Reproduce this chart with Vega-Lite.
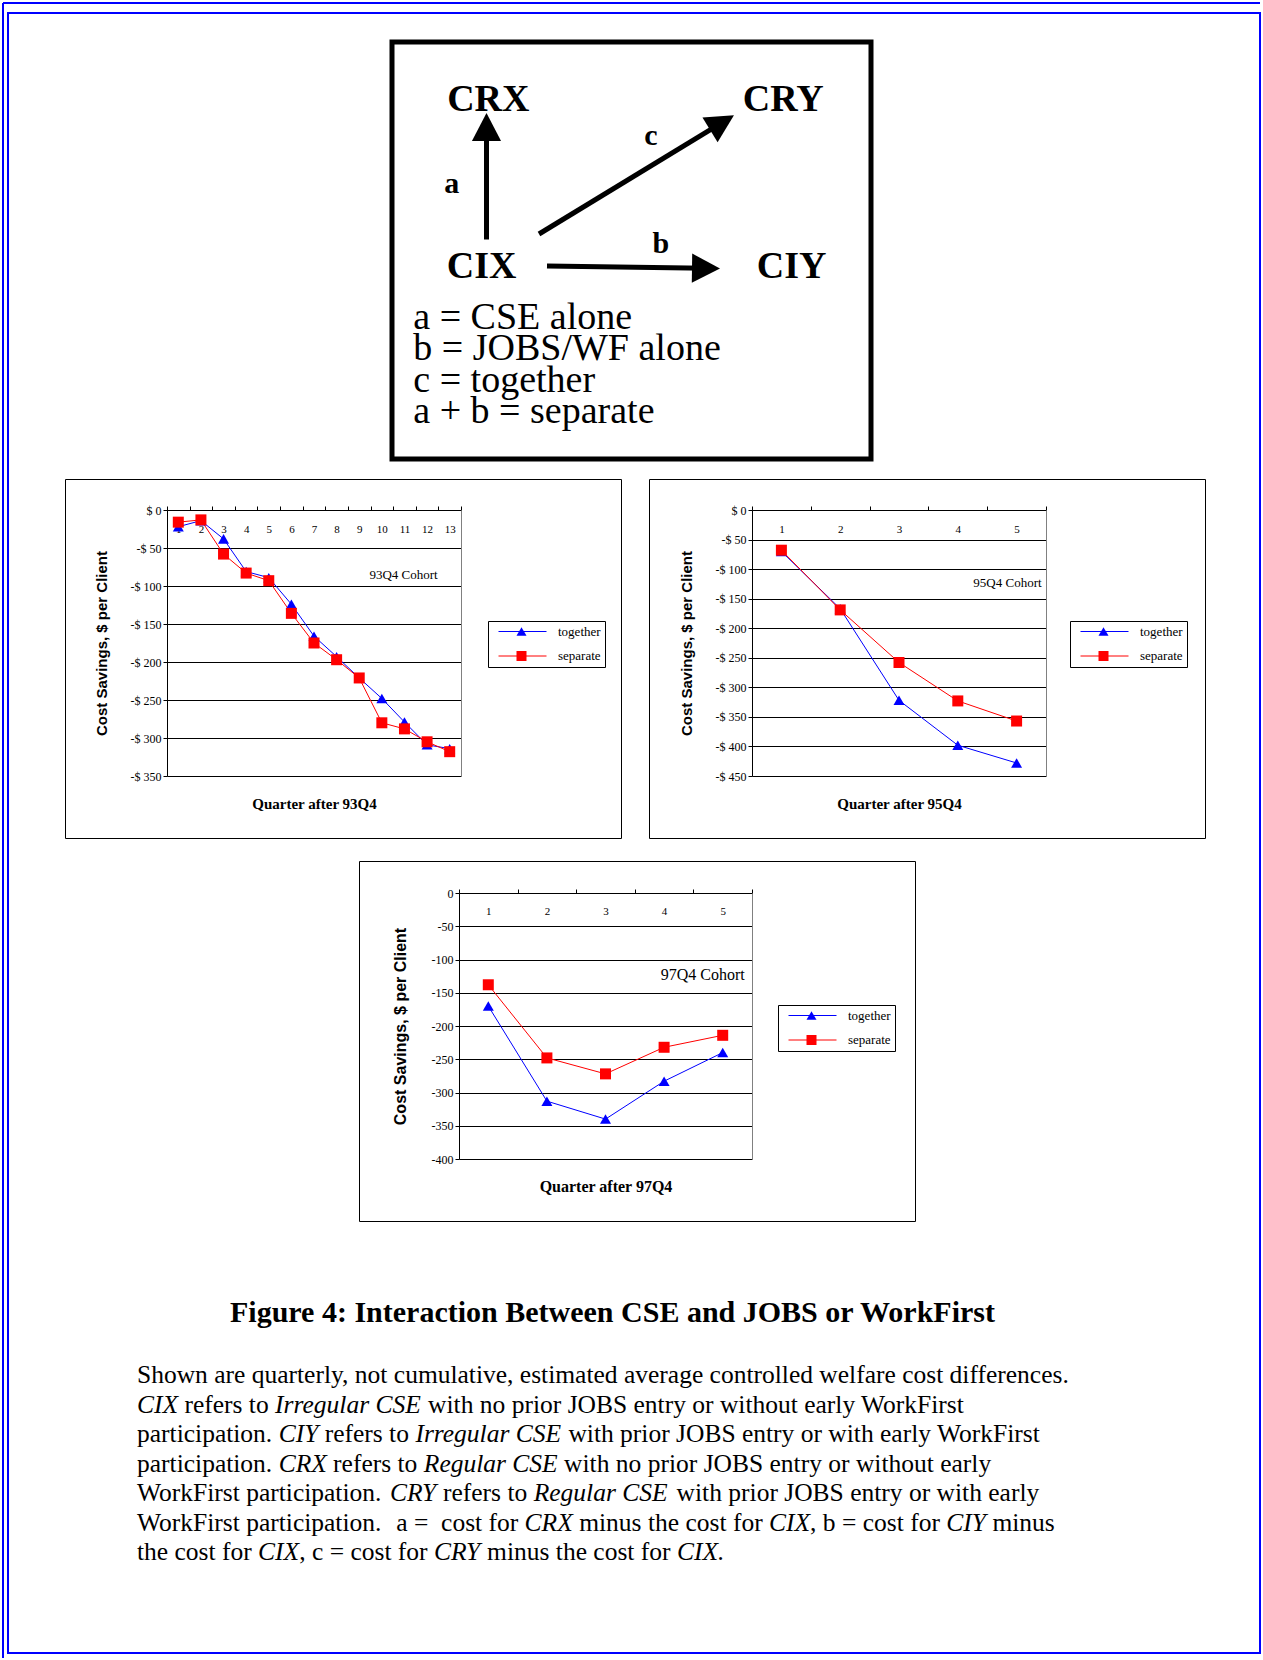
{
  "$schema": "https://vega.github.io/schema/vega-lite/v6.json",
  "padding": {"left": 2, "top": 2, "right": 0, "bottom": 0},
  "background": "white",
  "config": {"view": {"stroke": null}, "font": "Liberation Serif"},
  "datasets": {
    "outer": [{"x": 0, "y": 0, "x2": 1257, "y2": 0}, {"x": 0, "y": 0, "x2": 0, "y2": 1655}],
    "inner": [{"x": 5, "y": 10, "x2": 1257, "y2": 1650}],
    "box": [{"x": 389, "y": 39, "x2": 868, "y2": 456}],
    "chartboxes": [
      {"x": 62.5, "y": 476.5, "x2": 618.5, "y2": 835.5},
      {"x": 646.5, "y": 476.5, "x2": 1202.5, "y2": 835.5},
      {"x": 356.5, "y": 858.5, "x2": 912.5, "y2": 1218.5}
    ],
    "shafts": [
      {"x": 483.5, "y": 236.5, "x2": 483.5, "y2": 124},
      {"x": 536, "y": 231, "x2": 719, "y2": 119.6},
      {"x": 544, "y": 263, "x2": 703, "y2": 265.3}
    ],
    "heads": [
      {"x": 483.5, "y": 124, "angle": 0},
      {"x": 719, "y": 119.6, "angle": 58.7},
      {"x": 703, "y": 265.3, "angle": 90.8}
    ],
    "nodes": [
      {"x": 485.3, "y": 108.3, "label": "CRX"},
      {"x": 780.3, "y": 108.3, "label": "CRY"},
      {"x": 478.7, "y": 275, "label": "CIX"},
      {"x": 788.7, "y": 275, "label": "CIY"}
    ],
    "edges": [
      {"x": 448.7, "y": 190, "label": "a"},
      {"x": 647.8, "y": 142.3, "label": "c"},
      {"x": 657.8, "y": 250, "label": "b"}
    ],
    "key": [
      {"x": 410.3, "y": 325.5, "label": "a = CSE alone"},
      {"x": 410.3, "y": 357, "label": "b = JOBS/WF alone"},
      {"x": 410.3, "y": 389, "label": "c = together"},
      {"x": 410.3, "y": 420, "label": "a + b = separate"}
    ],
    "figtitle": [{"x": 609.5, "y": 1318.7, "label": "Figure 4: Interaction Between CSE and JOBS or WorkFirst"}],
    "cap_r": [
      {"x": 134, "y": 1380, "label": "Shown are quarterly, not cumulative, estimated average controlled welfare cost differences."},
      {"x": 181.4, "y": 1409.5, "label": "refers to"},
      {"x": 425.1, "y": 1409.5, "label": "with no prior JOBS entry or without early WorkFirst"},
      {"x": 134, "y": 1439, "label": "participation."},
      {"x": 321.7, "y": 1439, "label": "refers to"},
      {"x": 565.4, "y": 1439, "label": "with prior JOBS entry or with early WorkFirst"},
      {"x": 134, "y": 1468.5, "label": "participation."},
      {"x": 330.1, "y": 1468.5, "label": "refers to"},
      {"x": 561.1, "y": 1468.5, "label": "with no prior JOBS entry or without early"},
      {"x": 134, "y": 1498, "label": "WorkFirst participation."},
      {"x": 440, "y": 1498, "label": "refers to"},
      {"x": 673.6, "y": 1498, "label": "with prior JOBS entry or with early"},
      {"x": 134, "y": 1527.5, "label": "WorkFirst participation."},
      {"x": 393.2, "y": 1527.5, "label": "a ="},
      {"x": 438.1, "y": 1527.5, "label": "cost for"},
      {"x": 576.2, "y": 1527.5, "label": "minus the cost for"},
      {"x": 807.1, "y": 1527.5, "label": ", b = cost for"},
      {"x": 989.4, "y": 1527.5, "label": "minus"},
      {"x": 134, "y": 1557, "label": "the cost for"},
      {"x": 296.2, "y": 1557, "label": ", c = cost for"},
      {"x": 484.1, "y": 1557, "label": "minus the cost for"}
    ],
    "cap_i": [
      {"x": 134, "y": 1409.5, "label": "CIX"},
      {"x": 272.1, "y": 1409.5, "label": "Irregular CSE"},
      {"x": 275.7, "y": 1439, "label": "CIY"},
      {"x": 412.4, "y": 1439, "label": "Irregular CSE"},
      {"x": 275.7, "y": 1468.5, "label": "CRX"},
      {"x": 420.8, "y": 1468.5, "label": "Regular CSE"},
      {"x": 386.9, "y": 1498, "label": "CRY"},
      {"x": 530.7, "y": 1498, "label": "Regular CSE"},
      {"x": 521.6, "y": 1527.5, "label": "CRX"},
      {"x": 766, "y": 1527.5, "label": "CIX"},
      {"x": 943.3, "y": 1527.5, "label": "CIY"},
      {"x": 255.1, "y": 1557, "label": "CIX"},
      {"x": 430.9, "y": 1557, "label": "CRY"},
      {"x": 673.9, "y": 1557, "label": "CIX."}
    ],
    "c1": [
      {"q": 1, "series": "together", "v": -22}, {"q": 2, "series": "together", "v": -14}, {"q": 3, "series": "together", "v": -38},
      {"q": 4, "series": "together", "v": -81}, {"q": 5, "series": "together", "v": -89}, {"q": 6, "series": "together", "v": -124},
      {"q": 7, "series": "together", "v": -166}, {"q": 8, "series": "together", "v": -193}, {"q": 9, "series": "together", "v": -221},
      {"q": 10, "series": "together", "v": -248}, {"q": 11, "series": "together", "v": -279}, {"q": 12, "series": "together", "v": -309},
      {"q": 13, "series": "together", "v": -314},
      {"q": 1, "series": "separate", "v": -16}, {"q": 2, "series": "separate", "v": -13}, {"q": 3, "series": "separate", "v": -58},
      {"q": 4, "series": "separate", "v": -83}, {"q": 5, "series": "separate", "v": -93}, {"q": 6, "series": "separate", "v": -136},
      {"q": 7, "series": "separate", "v": -175}, {"q": 8, "series": "separate", "v": -197}, {"q": 9, "series": "separate", "v": -221},
      {"q": 10, "series": "separate", "v": -280}, {"q": 11, "series": "separate", "v": -288}, {"q": 12, "series": "separate", "v": -305},
      {"q": 13, "series": "separate", "v": -318}
    ],
    "c2": [
      {"q": 1, "series": "together", "v": -70}, {"q": 2, "series": "together", "v": -167}, {"q": 3, "series": "together", "v": -322},
      {"q": 4, "series": "together", "v": -398}, {"q": 5, "series": "together", "v": -428},
      {"q": 1, "series": "separate", "v": -68}, {"q": 2, "series": "separate", "v": -169}, {"q": 3, "series": "separate", "v": -258},
      {"q": 4, "series": "separate", "v": -323}, {"q": 5, "series": "separate", "v": -357}
    ],
    "c3": [
      {"q": 1, "series": "together", "v": -170}, {"q": 2, "series": "together", "v": -313}, {"q": 3, "series": "together", "v": -340},
      {"q": 4, "series": "together", "v": -283}, {"q": 5, "series": "together", "v": -240},
      {"q": 1, "series": "separate", "v": -138}, {"q": 2, "series": "separate", "v": -248}, {"q": 3, "series": "separate", "v": -272},
      {"q": 4, "series": "separate", "v": -232}, {"q": 5, "series": "separate", "v": -214}
    ]
  },
  "width": 1257,
  "height": 1655,
  "layer": [
    {
      "encoding": {
        "x": {"field": "x", "type": "quantitative", "scale": {"domain": [0, 1257], "nice": false, "zero": false}, "axis": null},
        "y": {"field": "y", "type": "quantitative", "scale": {"domain": [0, 1655], "nice": false, "zero": false, "reverse": true}, "axis": null}
      },
      "layer": [
        {"data": {"name": "outer"}, "mark": {"type": "rule", "color": "#0000ff", "strokeWidth": 2}, "encoding": {"x2": {"field": "x2"}, "y2": {"field": "y2"}}},
        {"data": {"name": "inner"}, "mark": {"type": "rect", "filled": false, "color": "#0000ff", "strokeWidth": 2}, "encoding": {"x2": {"field": "x2"}, "y2": {"field": "y2"}}},
        {"data": {"name": "box"}, "mark": {"type": "rect", "filled": false, "color": "black", "strokeWidth": 5}, "encoding": {"x2": {"field": "x2"}, "y2": {"field": "y2"}}},
        {"data": {"name": "chartboxes"}, "mark": {"type": "rect", "filled": false, "color": "black", "strokeWidth": 1}, "encoding": {"x2": {"field": "x2"}, "y2": {"field": "y2"}}},
        {"data": {"name": "shafts"}, "mark": {"type": "rule", "color": "black", "strokeWidth": 5}, "encoding": {"x2": {"field": "x2"}, "y2": {"field": "y2"}}},
        {"data": {"name": "heads"}, "mark": {"type": "point", "shape": "M0,-1L1.04,1L-1.04,1Z", "size": 784, "filled": true, "color": "black", "opacity": 1}, "encoding": {"angle": {"field": "angle", "type": "quantitative", "scale": null}}},
        {"data": {"name": "nodes"}, "mark": {"type": "text", "font": "Liberation Serif", "fontWeight": "bold", "fontSize": 38, "align": "center", "baseline": "alphabetic", "color": "black"}, "encoding": {"text": {"field": "label"}}},
        {"data": {"name": "edges"}, "mark": {"type": "text", "font": "Liberation Serif", "fontWeight": "bold", "fontSize": 30, "align": "center", "baseline": "alphabetic", "color": "black"}, "encoding": {"text": {"field": "label"}}},
        {"data": {"name": "key"}, "mark": {"type": "text", "font": "Liberation Serif", "fontSize": 38, "align": "left", "baseline": "alphabetic", "color": "black"}, "encoding": {"text": {"field": "label"}}},
        {"data": {"name": "figtitle"}, "mark": {"type": "text", "font": "Liberation Serif", "fontWeight": "bold", "fontSize": 30, "align": "center", "baseline": "alphabetic", "color": "black"}, "encoding": {"text": {"field": "label"}}},
        {"data": {"name": "cap_r"}, "mark": {"type": "text", "font": "Liberation Serif", "fontSize": 25.5, "align": "left", "baseline": "alphabetic", "color": "black"}, "encoding": {"text": {"field": "label"}}},
        {"data": {"name": "cap_i"}, "mark": {"type": "text", "font": "Liberation Serif", "fontStyle": "italic", "fontSize": 25.5, "align": "left", "baseline": "alphabetic", "color": "black"}, "encoding": {"text": {"field": "label"}}}
      ]
    },
    {
      "data": {"name": "c1"},
      "mark": {"type": "line", "strokeWidth": 1},
      "encoding": {
        "x": {"field": "q", "type": "ordinal", "scale": {"type": "band", "domain": [1,2,3,4,5,6,7,8,9,10,11,12,13], "range": [164, 458], "paddingInner": 0, "paddingOuter": 0},
          "axis": {"orient": "top", "offset": -507, "title": null, "grid": false, "domain": true, "domainColor": "black", "ticks": true, "tickBand": "extent", "tickSize": 4, "tickColor": "black", "labelAngle": 0, "labelPadding": -23, "labelBaseline": "middle", "labelFont": "Liberation Serif", "labelFontSize": 11, "labelColor": "black"}},
        "y": {"field": "v", "type": "quantitative", "scale": {"domain": [-350, 0], "range": [773, 507], "nice": false, "zero": false},
          "axis": {"orient": "left", "offset": -164, "values": [-350, -300, -250, -200, -150, -100, -50, 0], "grid": true, "gridColor": "black", "gridOpacity": 1, "domain": true, "domainColor": "black", "ticks": true, "tickSize": 4, "tickColor": "black", "labelPadding": 2, "labelFont": "Liberation Serif", "labelFontSize": 12, "labelColor": "black", "labelExpr": "datum.value == 0 ? '$ 0' : '-$ ' + (-datum.value)", "title": "Cost Savings, $ per Client", "titleFont": "Liberation Sans", "titleFontSize": 15, "titleFontWeight": "bold", "titleColor": "black", "titlePadding": 21}},
        "color": {"field": "series", "type": "nominal", "scale": {"domain": ["together", "separate"], "range": ["#0000ff", "#ff0000"]},
          "legend": {"orient": "none", "legendX": 485, "legendY": 618, "title": null, "direction": "vertical", "strokeColor": "black", "padding": 4, "rowPadding": 10.5, "labelFont": "Liberation Serif", "labelFontSize": 13, "labelColor": "black", "symbolType": "M0,0L12,0", "symbolSize": 64, "symbolStrokeWidth": 1, "labelOffset": 53}}
      }
    },
    {
      "data": {"name": "c1"},
      "mark": {"type": "point", "filled": true, "opacity": 1, "size": 121},
      "encoding": {
        "x": {"field": "q", "type": "ordinal", "scale": {"type": "band", "domain": [1,2,3,4,5,6,7,8,9,10,11,12,13], "range": [164, 458], "paddingInner": 0, "paddingOuter": 0}, "axis": null},
        "y": {"field": "v", "type": "quantitative", "scale": {"domain": [-350, 0], "range": [773, 507], "nice": false, "zero": false}, "axis": null},
        "color": {"field": "series", "type": "nominal", "scale": {"domain": ["together", "separate"], "range": ["#0000ff", "#ff0000"]},
          "legend": {"orient": "none", "legendX": 485, "legendY": 618, "title": null, "direction": "vertical", "padding": 4, "rowPadding": 10.5, "labelFont": "Liberation Serif", "labelFontSize": 13, "labelOpacity": 0, "labelExpr": "' '", "symbolOffset": 23}},
        "shape": {"field": "series", "type": "nominal", "scale": {"domain": ["together", "separate"], "range": ["triangle-up", "square"]},
          "legend": {"orient": "none", "legendX": 485, "legendY": 618, "title": null, "direction": "vertical", "padding": 4, "rowPadding": 10.5, "labelFont": "Liberation Serif", "labelFontSize": 13, "labelOpacity": 0, "labelExpr": "' '", "symbolOffset": 23}}
      }
    },
    {
      "data": {"values": [{"q": 13, "v": -86, "label": "93Q4 Cohort"}]},
      "mark": {"type": "text", "align": "right", "baseline": "middle", "dx": -12, "font": "Liberation Serif", "fontSize": 13, "color": "black"},
      "encoding": {
        "x": {"field": "q", "type": "ordinal", "scale": {"type": "band", "domain": [1,2,3,4,5,6,7,8,9,10,11,12,13], "range": [164, 458], "paddingInner": 0, "paddingOuter": 0},
          "axis": {"orient": "bottom", "offset": -862, "title": "Quarter after 93Q4", "labels": false, "ticks": false, "domain": false, "grid": false, "minExtent": 0, "maxExtent": 0, "titlePadding": 0, "titleBaseline": "top", "titleFont": "Liberation Serif", "titleFontSize": 15, "titleFontWeight": "bold", "titleColor": "black"}},
        "y": {"field": "v", "type": "quantitative", "scale": {"domain": [-350, 0], "range": [773, 507], "nice": false, "zero": false},
          "axis": {"orient": "right", "offset": -799, "title": null, "labels": false, "ticks": false, "grid": false, "domain": true, "domainColor": "#808080"}},
        "text": {"field": "label"}
      }
    },
    {
      "data": {"name": "c2"},
      "mark": {"type": "line", "strokeWidth": 1},
      "encoding": {
        "x": {"field": "q", "type": "ordinal", "scale": {"type": "band", "domain": [1,2,3,4,5], "range": [749, 1043], "paddingInner": 0, "paddingOuter": 0},
          "axis": {"orient": "top", "offset": -507, "title": null, "grid": false, "domain": true, "domainColor": "black", "ticks": true, "tickBand": "extent", "tickSize": 4, "tickColor": "black", "labelAngle": 0, "labelPadding": -23, "labelBaseline": "middle", "labelFont": "Liberation Serif", "labelFontSize": 11, "labelColor": "black"}},
        "y": {"field": "v", "type": "quantitative", "scale": {"domain": [-450, 0], "range": [773, 507], "nice": false, "zero": false},
          "axis": {"orient": "left", "offset": -749, "values": [-450, -400, -350, -300, -250, -200, -150, -100, -50, 0], "grid": true, "gridColor": "black", "gridOpacity": 1, "domain": true, "domainColor": "black", "ticks": true, "tickSize": 4, "tickColor": "black", "labelPadding": 2, "labelFont": "Liberation Serif", "labelFontSize": 12, "labelColor": "black", "labelExpr": "datum.value == 0 ? '$ 0' : '-$ ' + (-datum.value)", "title": "Cost Savings, $ per Client", "titleFont": "Liberation Sans", "titleFontSize": 15, "titleFontWeight": "bold", "titleColor": "black", "titlePadding": 21}},
        "color": {"field": "series", "type": "nominal", "scale": {"domain": ["together", "separate"], "range": ["#0000ff", "#ff0000"]},
          "legend": {"orient": "none", "legendX": 1067, "legendY": 618, "title": null, "direction": "vertical", "strokeColor": "black", "padding": 4, "rowPadding": 10.5, "labelFont": "Liberation Serif", "labelFontSize": 13, "labelColor": "black", "symbolType": "M0,0L12,0", "symbolSize": 64, "symbolStrokeWidth": 1, "labelOffset": 53}}
      }
    },
    {
      "data": {"name": "c2"},
      "mark": {"type": "point", "filled": true, "opacity": 1, "size": 121},
      "encoding": {
        "x": {"field": "q", "type": "ordinal", "scale": {"type": "band", "domain": [1,2,3,4,5], "range": [749, 1043], "paddingInner": 0, "paddingOuter": 0}, "axis": null},
        "y": {"field": "v", "type": "quantitative", "scale": {"domain": [-450, 0], "range": [773, 507], "nice": false, "zero": false}, "axis": null},
        "color": {"field": "series", "type": "nominal", "scale": {"domain": ["together", "separate"], "range": ["#0000ff", "#ff0000"]},
          "legend": {"orient": "none", "legendX": 1067, "legendY": 618, "title": null, "direction": "vertical", "padding": 4, "rowPadding": 10.5, "labelFont": "Liberation Serif", "labelFontSize": 13, "labelOpacity": 0, "labelExpr": "' '", "symbolOffset": 23}},
        "shape": {"field": "series", "type": "nominal", "scale": {"domain": ["together", "separate"], "range": ["triangle-up", "square"]},
          "legend": {"orient": "none", "legendX": 1067, "legendY": 618, "title": null, "direction": "vertical", "padding": 4, "rowPadding": 10.5, "labelFont": "Liberation Serif", "labelFontSize": 13, "labelOpacity": 0, "labelExpr": "' '", "symbolOffset": 23}}
      }
    },
    {
      "data": {"values": [{"q": 5, "v": -124, "label": "95Q4 Cohort"}]},
      "mark": {"type": "text", "align": "right", "baseline": "middle", "dx": 25, "font": "Liberation Serif", "fontSize": 13, "color": "black"},
      "encoding": {
        "x": {"field": "q", "type": "ordinal", "scale": {"type": "band", "domain": [1,2,3,4,5], "range": [749, 1043], "paddingInner": 0, "paddingOuter": 0},
          "axis": {"orient": "bottom", "offset": -862, "title": "Quarter after 95Q4", "labels": false, "ticks": false, "domain": false, "grid": false, "minExtent": 0, "maxExtent": 0, "titlePadding": 0, "titleBaseline": "top", "titleFont": "Liberation Serif", "titleFontSize": 15, "titleFontWeight": "bold", "titleColor": "black"}},
        "y": {"field": "v", "type": "quantitative", "scale": {"domain": [-450, 0], "range": [773, 507], "nice": false, "zero": false},
          "axis": {"orient": "right", "offset": -214, "title": null, "labels": false, "ticks": false, "grid": false, "domain": true, "domainColor": "#808080"}},
        "text": {"field": "label"}
      }
    },
    {
      "data": {"name": "c3"},
      "mark": {"type": "line", "strokeWidth": 1},
      "encoding": {
        "x": {"field": "q", "type": "ordinal", "scale": {"type": "band", "domain": [1,2,3,4,5], "range": [456, 749], "paddingInner": 0, "paddingOuter": 0},
          "axis": {"orient": "top", "offset": -890, "title": null, "grid": false, "domain": true, "domainColor": "black", "ticks": true, "tickBand": "extent", "tickSize": 4, "tickColor": "black", "labelAngle": 0, "labelPadding": -22.5, "labelBaseline": "middle", "labelFont": "Liberation Serif", "labelFontSize": 11, "labelColor": "black"}},
        "y": {"field": "v", "type": "quantitative", "scale": {"domain": [-400, 0], "range": [1156, 890], "nice": false, "zero": false},
          "axis": {"orient": "left", "offset": -456, "values": [-400, -350, -300, -250, -200, -150, -100, -50, 0], "grid": true, "gridColor": "black", "gridOpacity": 1, "domain": true, "domainColor": "black", "ticks": true, "tickSize": 4, "tickColor": "black", "labelPadding": 2, "labelFont": "Liberation Serif", "labelFontSize": 12, "labelColor": "black", "labelExpr": "'' + datum.value", "title": "Cost Savings, $ per Client", "titleFont": "Liberation Sans", "titleFontSize": 16, "titleFontWeight": "bold", "titleColor": "black", "titlePadding": 23}},
        "color": {"field": "series", "type": "nominal", "scale": {"domain": ["together", "separate"], "range": ["#0000ff", "#ff0000"]},
          "legend": {"orient": "none", "legendX": 775, "legendY": 1002, "title": null, "direction": "vertical", "strokeColor": "black", "padding": 4, "rowPadding": 10.5, "labelFont": "Liberation Serif", "labelFontSize": 13, "labelColor": "black", "symbolType": "M0,0L12,0", "symbolSize": 64, "symbolStrokeWidth": 1, "labelOffset": 53}}
      }
    },
    {
      "data": {"name": "c3"},
      "mark": {"type": "point", "filled": true, "opacity": 1, "size": 121},
      "encoding": {
        "x": {"field": "q", "type": "ordinal", "scale": {"type": "band", "domain": [1,2,3,4,5], "range": [456, 749], "paddingInner": 0, "paddingOuter": 0}, "axis": null},
        "y": {"field": "v", "type": "quantitative", "scale": {"domain": [-400, 0], "range": [1156, 890], "nice": false, "zero": false}, "axis": null},
        "color": {"field": "series", "type": "nominal", "scale": {"domain": ["together", "separate"], "range": ["#0000ff", "#ff0000"]},
          "legend": {"orient": "none", "legendX": 775, "legendY": 1002, "title": null, "direction": "vertical", "padding": 4, "rowPadding": 10.5, "labelFont": "Liberation Serif", "labelFontSize": 13, "labelOpacity": 0, "labelExpr": "' '", "symbolOffset": 23}},
        "shape": {"field": "series", "type": "nominal", "scale": {"domain": ["together", "separate"], "range": ["triangle-up", "square"]},
          "legend": {"orient": "none", "legendX": 775, "legendY": 1002, "title": null, "direction": "vertical", "padding": 4, "rowPadding": 10.5, "labelFont": "Liberation Serif", "labelFontSize": 13, "labelOpacity": 0, "labelExpr": "' '", "symbolOffset": 23}}
      }
    },
    {
      "data": {"values": [{"q": 5, "v": -124, "label": "97Q4 Cohort"}]},
      "mark": {"type": "text", "align": "right", "baseline": "middle", "dx": 22, "font": "Liberation Serif", "fontSize": 16, "color": "black"},
      "encoding": {
        "x": {"field": "q", "type": "ordinal", "scale": {"type": "band", "domain": [1,2,3,4,5], "range": [456, 749], "paddingInner": 0, "paddingOuter": 0},
          "axis": {"orient": "bottom", "offset": -480, "title": "Quarter after 97Q4", "labels": false, "ticks": false, "domain": false, "grid": false, "minExtent": 0, "maxExtent": 0, "titlePadding": 0, "titleBaseline": "top", "titleFont": "Liberation Serif", "titleFontSize": 16, "titleFontWeight": "bold", "titleColor": "black"}},
        "y": {"field": "v", "type": "quantitative", "scale": {"domain": [-400, 0], "range": [1156, 890], "nice": false, "zero": false},
          "axis": {"orient": "right", "offset": -508, "title": null, "labels": false, "ticks": false, "grid": false, "domain": true, "domainColor": "#808080"}},
        "text": {"field": "label"}
      }
    }
  ],
  "resolve": {
    "scale": {"x": "independent", "y": "independent", "color": "independent", "shape": "independent"},
    "axis": {"x": "independent", "y": "independent"},
    "legend": {"color": "independent", "shape": "independent"}
  }
}
